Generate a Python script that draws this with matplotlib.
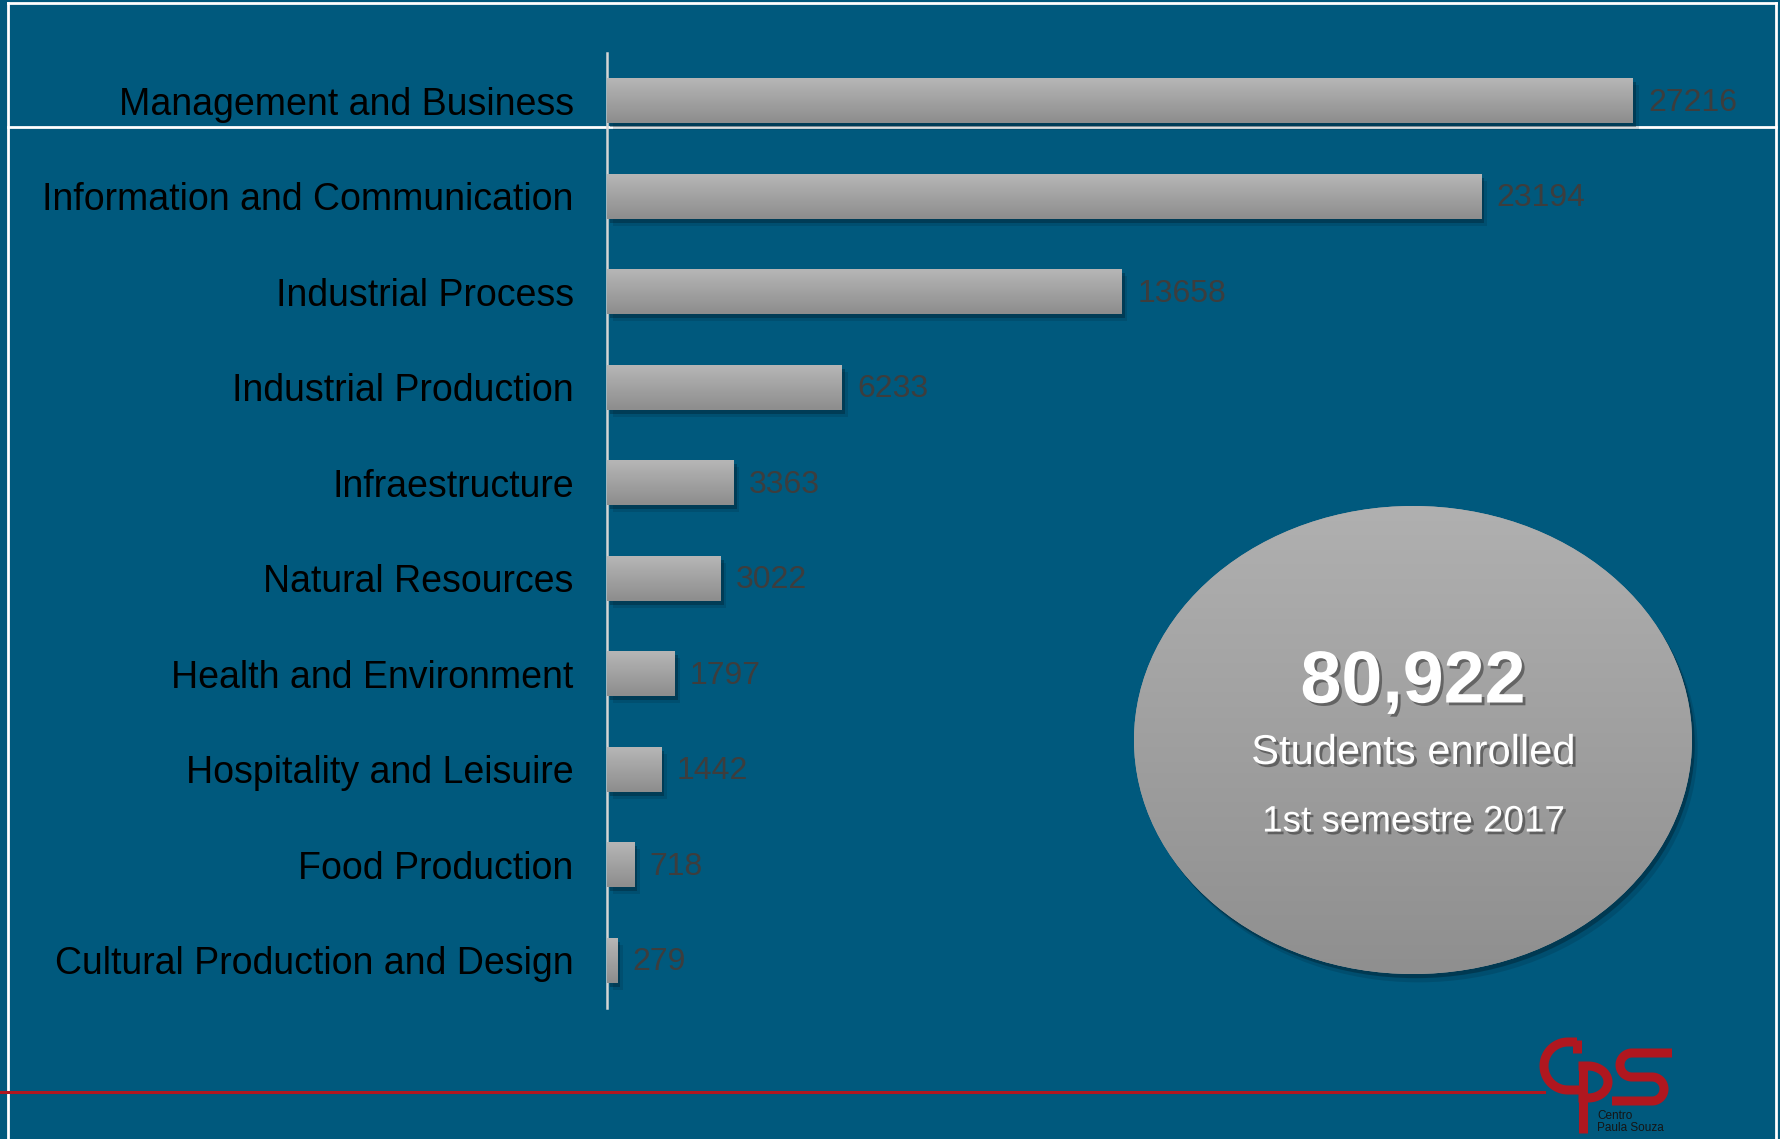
import numpy as np
import matplotlib
matplotlib.use("Agg")
import matplotlib.pyplot as plt
import matplotlib.patheffects as pe
from matplotlib.colors import LinearSegmentedColormap
from matplotlib.patches import Ellipse
from matplotlib.lines import Line2D

plt.rcParams['font.family'] = ['Liberation Sans', 'DejaVu Sans']

categories = ['Management and Business', 'Information and Communication',
              'Industrial Process', 'Industrial Production', 'Infraestructure',
              'Natural Resources', 'Health and Environment',
              'Hospitality and Leisuire', 'Food Production',
              'Cultural Production and Design']
students = [27216, 23194, 13658, 6233, 3363, 3022, 1797, 1442, 718, 279]
total_text = '80,922'
subtitle = 'Students enrolled'
period = '1st semestre 2017'

BG = '#00597d'
RED = '#b0171f'
W, H = 1781, 1139

fig = plt.figure(figsize=(W / 100, H / 100), dpi=100, facecolor=BG)

# overlay in pixel coordinates for frame, bubble and logo
deco = fig.add_axes([0, 0, 1, 1], zorder=0)
deco.set_xlim(0, W)
deco.set_ylim(H, 0)
deco.axis('off')
deco.set_facecolor('none')

# white frame and separator
for xs, ys in [([8, 8], [3, H]), ([8, 1776], [3, 3]), ([1776, 1776], [3, H]),
               ([8, 1776], [127, 127])]:
    deco.add_line(Line2D(xs, ys, color='white', lw=2))

# red footer line
deco.add_line(Line2D([0, 1544], [1092, 1092], color=RED, lw=2.2))

# bar chart
ax = fig.add_axes([607 / W, 1 - 1008 / H, (1720 - 607) / W, 955 / H], zorder=2)
ax.set_facecolor('none')
ypos = np.arange(len(categories))
xmax = (1720 - 607) / ((1633 - 607) / 27216)
ax.set_xlim(0, xmax)
ax.set_ylim(len(categories) - 0.5, -0.5)
ax.set_autoscale_on(False)

bar_fx = [pe.SimplePatchShadow(offset=(2, -3), shadow_rgbFace='#001a28', alpha=0.35),
          pe.SimplePatchShadow(offset=(4, -5), shadow_rgbFace='#001a28', alpha=0.15),
          pe.Normal()]
bars = ax.barh(ypos, students, height=0.47, color='#a0a0a0', zorder=2, path_effects=bar_fx)
grad_cmap = LinearSegmentedColormap.from_list('bar', ['#b6b6b6', '#8d8d8d'])
grad = np.linspace(0, 1, 64).reshape(-1, 1)
for b in bars:
    x0, y0 = b.get_x(), b.get_y()
    im = ax.imshow(grad, cmap=grad_cmap, aspect='auto', zorder=3,
                   extent=[x0, x0 + b.get_width(), y0 + b.get_height(), y0])
    im.set_clip_path(b)

for y, v in zip(ypos, students):
    ax.annotate(str(v), (v, y), xytext=(11, -1.5), textcoords='offset points',
                ha='left', va='center', fontsize=23, color='#3d3d3d', zorder=4)

ax.set_yticks(ypos)
ax.set_yticklabels(categories, fontsize=27, color='black')
ax.tick_params(axis='y', length=0, pad=24)
ax.set_xticks([])
for s in ['top', 'right', 'bottom']:
    ax.spines[s].set_visible(False)
ax.spines['left'].set_color('#d5d5d5')
ax.spines['left'].set_linewidth(1.8)

# total bubble
bub_fx = [pe.SimplePatchShadow(offset=(2, -3), shadow_rgbFace='#00141f', alpha=0.35),
          pe.SimplePatchShadow(offset=(4, -6), shadow_rgbFace='#00141f', alpha=0.15),
          pe.Normal()]
bub = Ellipse((1413, 740), 558, 468, facecolor='#a5a5a5', edgecolor='none', zorder=1,
              path_effects=bub_fx)
deco.add_patch(bub)
bub_cmap = LinearSegmentedColormap.from_list('bub', ['#b0b0b0', '#8f8f8f'])
bim = deco.imshow(np.linspace(0, 1, 128).reshape(-1, 1), cmap=bub_cmap, aspect='auto',
                  extent=[1413 - 279, 1413 + 279, 740 + 234, 740 - 234], zorder=1.5)
bim.set_clip_path(bub)
deco.set_xlim(0, W)
deco.set_ylim(H, 0)

txt_fx = [pe.withSimplePatchShadow(offset=(2, -2), shadow_rgbFace='#3a3a3a', alpha=0.6)]
deco.text(1413, 683, total_text, ha='center', va='center', fontsize=53,
          fontweight='bold', color='white', path_effects=txt_fx, zorder=5)
deco.text(1413, 753, subtitle, ha='center', va='center', fontsize=30,
          color='white', path_effects=txt_fx, zorder=5)
deco.text(1413, 822, period, ha='center', va='center', fontsize=26.5,
          color='white', path_effects=txt_fx, zorder=5)


# logo
def arc(cx, cy, r, a0, a1, ry=None):
    t = np.radians(np.linspace(a0, a1, 40))
    ry = r if ry is None else ry
    return cx + r * np.cos(t), cy - ry * np.sin(t)


lw = 6.5
cx_, cy_ = arc(1568, 1066, 24, 90, 270)
deco.plot(np.r_[1577, cx_, 1582], np.r_[1042, cy_, 1090], color=RED, lw=lw,
          solid_capstyle='butt', zorder=6)
deco.plot([1577, 1577], [1040, 1053], color=RED, lw=lw, solid_capstyle='butt', zorder=6)
deco.plot([1583, 1583], [1064, 1133], color=RED, lw=lw, solid_capstyle='butt', zorder=6)
px_, py_ = arc(1588, 1082, 20, 90, -90, ry=16)
deco.plot(np.r_[1583, px_, 1583], np.r_[1066, py_, 1098], color=RED, lw=lw, zorder=6)
s1x, s1y = arc(1632, 1065, 12, 90, 270)
s2x, s2y = arc(1652, 1089, 12, 90, -90)
deco.plot(np.r_[1672, s1x, s2x, 1612], np.r_[1053, s1y, s2y, 1101], color=RED, lw=lw,
          solid_capstyle='butt', zorder=6)
deco.text(1597, 1116, 'Centro', fontsize=8.5, color='#151515', va='center', ha='left', zorder=6)
deco.text(1597, 1128, 'Paula Souza', fontsize=8.5, color='#151515', va='center', ha='left',
          zorder=6)

fig.savefig('out.png', dpi=100, facecolor=BG)
